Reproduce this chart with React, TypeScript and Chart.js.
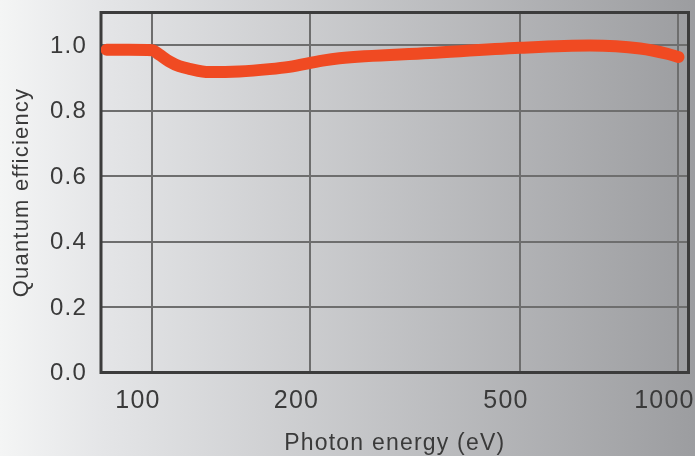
import React, { useEffect, useRef } from "react";
import { Chart, registerables } from "chart.js";

Chart.register(...registerables);

// Photon energy (eV) and quantum efficiency
const energyEV = [82, 90.4, 100, 103.1, 107.7, 112.6, 117.6, 128.4, 146.5, 167, 182.3, 210.7, 227, 337, 500, 679, 846, 952, 1000];
const quantumEfficiency = [0.986, 0.986, 0.985, 0.972, 0.951, 0.936, 0.928, 0.918, 0.92, 0.927, 0.934, 0.953, 0.96, 0.976, 0.992, 0.999, 0.99, 0.974, 0.964];

const xTickValues = [100, 200, 500, 1000];
const yTickValues = [0, 0.2, 0.4, 0.6, 0.8, 1.0];

const xTitle = "Photon energy (eV)";
const yTitle = "Quantum efficiency";

const FONT = "'Liberation Sans', Arial, Helvetica, sans-serif";

export default function App() {
  const ref = useRef<HTMLCanvasElement>(null);

  useEffect(() => {
    if (!ref.current) return;

    const bgPlugin = {
      id: "bg",
      beforeDraw(chart: any) {
        const { ctx, width, height } = chart;
        const g = ctx.createLinearGradient(0, 0, width, 0);
        g.addColorStop(0, "#f4f5f5");
        g.addColorStop(0.15, "#e4e5e7");
        g.addColorStop(1, "#9c9da0");
        ctx.save();
        ctx.fillStyle = g;
        ctx.fillRect(0, 0, width, height);
        ctx.restore();
        ctx.letterSpacing = "1.2px";
      },
    };

    const framePlugin = {
      id: "frame",
      beforeDatasetsDraw(chart: any) {
        const { ctx, chartArea: a } = chart;
        ctx.save();
        ctx.strokeStyle = "#3c3c3c";
        ctx.lineWidth = 3;
        ctx.strokeRect(a.left, a.top, a.right - a.left, a.bottom - a.top);
        ctx.restore();
      },
    };

    const chart = new Chart(ref.current, {
      type: "line",
      data: {
        datasets: [
          {
            data: energyEV.map((e, i) => ({ x: e, y: quantumEfficiency[i] })),
            borderColor: "#f04a22",
            borderWidth: 12,
            borderCapStyle: "round",
            borderJoinStyle: "round",
            pointRadius: 0,
            cubicInterpolationMode: "monotone",
            fill: false,
          },
        ],
      },
      options: {
        responsive: false,
        animation: false,
        devicePixelRatio: 1,
        layout: { padding: { top: 12.5, right: 6.5, left: 0, bottom: 0 } },
        plugins: { legend: { display: false }, tooltip: { enabled: false } },
        scales: {
          x: {
            type: "logarithmic",
            position: "bottom",
            min: 80,
            max: 1045,
            afterBuildTicks: (s: any) => {
              s.ticks = xTickValues.map((v) => ({ value: v }));
            },
            afterFit: (s: any) => {
              s.height = 83.5;
              s.paddingLeft = 0;
              s.paddingRight = 0;
            },
            ticks: {
              callback: (v: any) => String(v),
              font: { family: FONT, size: 25 },
              color: "#3a3a3a",
              padding: 14,
              maxRotation: 0,
              autoSkip: false,
              labelOffset: -14,
            },
            grid: { color: "#6e6e6e", lineWidth: 2, drawTicks: false },
            border: { display: false },
            title: {
              display: true,
              text: xTitle,
              font: { family: FONT, size: 23, lineHeight: 1.05 },
              color: "#3a3a3a",
              padding: { top: 0, bottom: 0 },
            },
          },
          y: {
            type: "linear",
            min: 0,
            max: 1.1,
            afterBuildTicks: (s: any) => {
              s.ticks = yTickValues.map((v) => ({ value: v }));
            },
            afterFit: (s: any) => {
              s.width = 101;
              s.paddingTop = 0;
              s.paddingBottom = 0;
            },
            ticks: {
              callback: (v: any) => Number(v).toFixed(1),
              font: { family: FONT, size: 24 },
              color: "#3a3a3a",
              padding: 14,
              autoSkip: false,
              labelOffset: 1,
            },
            grid: { color: "#6e6e6e", lineWidth: 2, drawTicks: false },
            border: { display: false },
            title: {
              display: true,
              text: yTitle,
              font: { family: FONT, size: 22 },
              color: "#3a3a3a",
              padding: { top: 9, bottom: 0 },
            },
          },
        },
      },
      plugins: [bgPlugin, framePlugin],
    } as any);

    return () => chart.destroy();
  }, []);

  return (
    <div style={{ position: "fixed", left: 0, top: 0, width: 695, height: 456 }}>
      <canvas ref={ref} width={695} height={456} style={{ display: "block", width: 695, height: 456 }} />
    </div>
  );
}
